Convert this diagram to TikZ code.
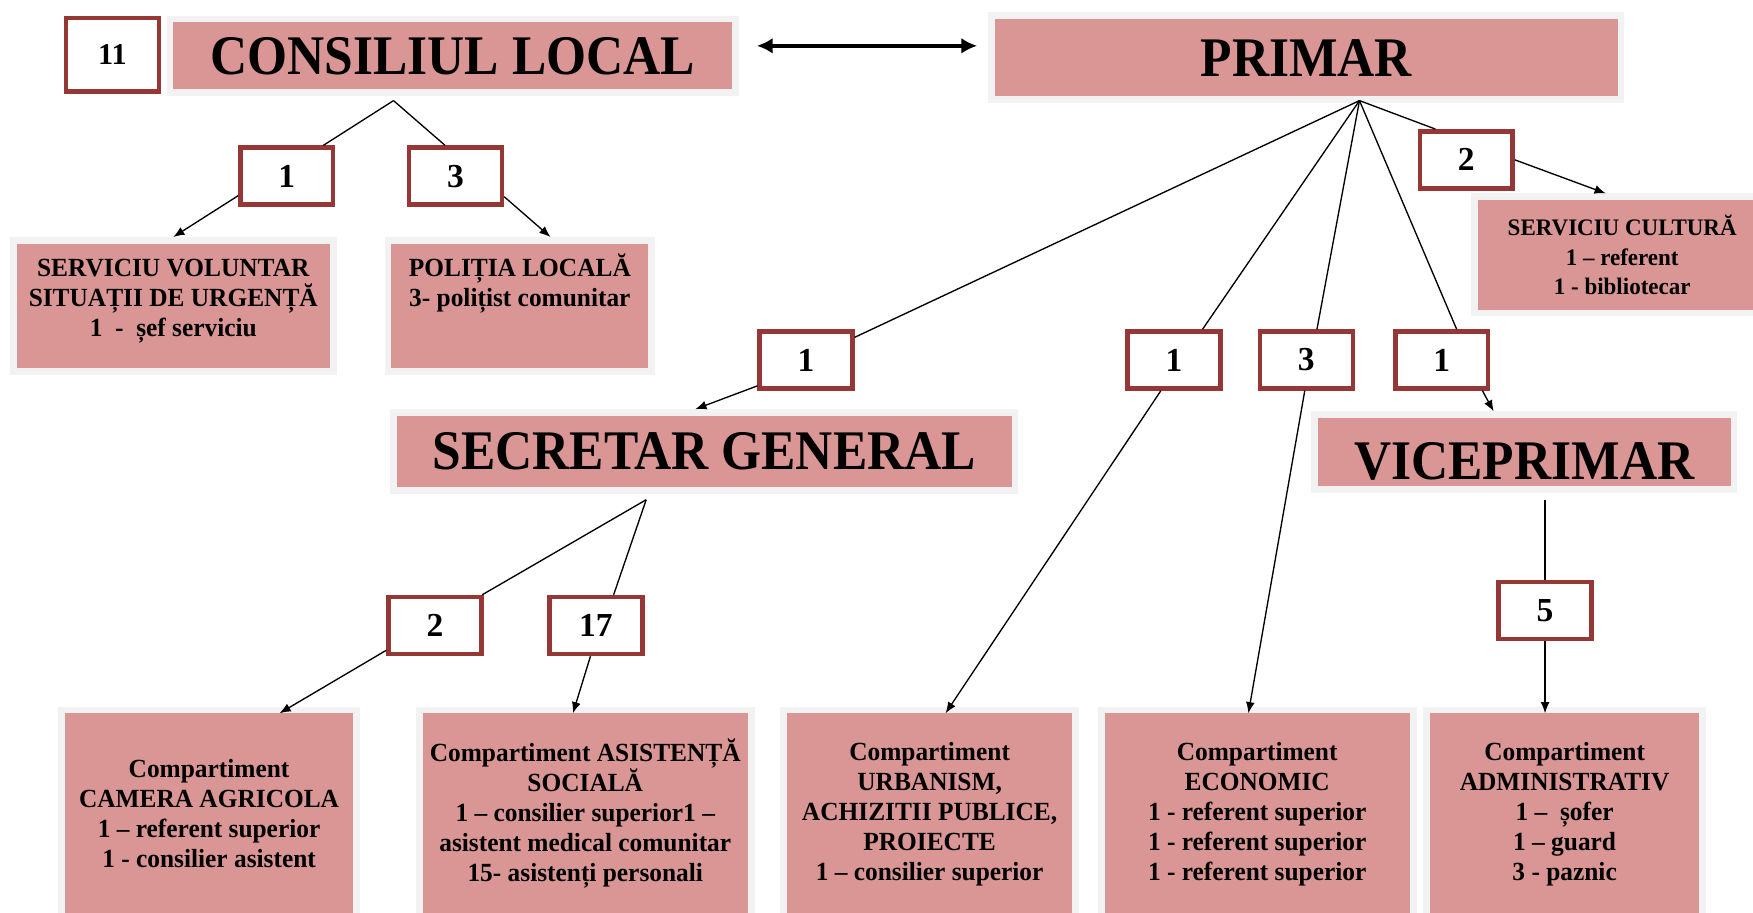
\documentclass[tikz,border=0pt]{standalone}
\usepackage{fontspec}
\setmainfont{Liberation Serif}
\newfontfamily\headfont[FakeStretch=0.92]{Liberation Serif}
\newfontfamily\boxfont[FakeStretch=0.97]{Liberation Serif}
\usetikzlibrary{arrows.meta,calc}
\definecolor{pinkfill}{RGB}{217,150,148}
\definecolor{halo}{RGB}{242,242,242}
\definecolor{numred}{RGB}{149,55,53}
\begin{document}
\begin{tikzpicture}[x=0.5pt,y=-0.5pt,
  pinkbox/.style={fill=pinkfill, preaction={draw=halo, line width=6pt}, outer sep=3pt, inner sep=0pt},
  headbox/.style={pinkbox, font=\headfont\bfseries\fontsize{25}{28}\selectfont},
  smallbox/.style={pinkbox, font=\boxfont\bfseries\fontsize{11.7}{13.4}\selectfont, align=center},
  bottombox/.style={smallbox, outer sep=0pt, minimum height=90pt},
  numbox/.style={draw=numred, line width=2pt, fill=white, minimum width=41.5pt, minimum height=25.5pt, inner sep=0pt, font=\bfseries\fontsize{15}{18}\selectfont},
  conn/.style={line width=0.6pt},
  arr/.style={conn, -{Latex[length=5pt,width=4pt]}},
  biarrow/.style={line width=2pt, {Latex[length=7pt,width=7pt]}-{Latex[length=7pt,width=7pt]}}
]
\useasboundingbox (0,0) rectangle (1568,816.6);
\clip (0,0) rectangle (1568,816.6);

% top row
\node[numbox, minimum height=33pt, font=\bfseries\fontsize{13.5}{16}\selectfont] (n11) at (100.5,49) {11};
\node[headbox, minimum width=250pt, minimum height=30pt] (cl) at (405,50) {CONSILIUL LOCAL};
\node[headbox, minimum width=278.5pt, minimum height=34.5pt] (prim) at (1168.5,51.5) {PRIMAR};

% second level
\node[numbox] (nA1) at (256.5,157.5) {1};
\node[numbox] (nA3) at (407.5,157.5) {3};
\node[numbox] (nC2) at (1311.5,143) {2};

\node[smallbox, minimum width=140pt, minimum height=55.5pt] (svsu) at (155,273.5)
  {\parbox[c][55.5pt][t]{140pt}{\centering\vspace*{4.2pt}\rule{0pt}{10.5pt}SERVICIU VOLUNTAR\\ SITUAȚII DE URGENȚĂ\\ 1~~-~~șef serviciu}};
\node[smallbox, minimum width=115pt, minimum height=55.5pt] (pol) at (465,273.5)
  {\parbox[c][55.5pt][t]{115pt}{\centering\vspace*{4.2pt}\rule{0pt}{10.5pt}POLIȚIA LOCALĂ\\ 3- polițist comunitar}};
\node[smallbox, minimum width=129pt, minimum height=49pt, font=\boxfont\bfseries\fontsize{10.6}{13}\selectfont] (cult) at (1451,228)
  {SERVICIU CULTURĂ\\ 1 – referent\\ 1 - bibliotecar};

% third level
\node[numbox] (nS1) at (721,322) {1};
\node[numbox] (nU1) at (1050,322) {1};
\node[numbox] (nE3) at (1168.5,322) {3};
\node[numbox] (nV1) at (1289.5,322) {1};

\node[headbox, minimum width=275pt, minimum height=32pt] (sg) at (630,404) {SECRETAR GENERAL};
\node[headbox, minimum width=184.5pt, minimum height=30.5pt, text height=24.5pt] (vice) at (1363.5,404.5) {VICEPRIMAR};

\node[numbox] (nSG2) at (389,559.5) {2};
\node[numbox] (nSG17) at (533,559.5) {17};
\node[numbox] (nV5) at (1382,546) {5};

% bottom boxes
\node[bottombox, minimum width=129pt] (cam) at (187,728)
  {Compartiment\\ CAMERA AGRICOLA\\ 1 – referent superior\\ 1 - consilier asistent};
\node[bottombox, minimum width=145.5pt] (asi) at (523.5,728)
  {Compartiment ASISTENȚĂ\\ SOCIALĂ\\ 1 – consilier superior1 –\\ asistent medical comunitar\\ 15- asistenți personali};
\node[bottombox, minimum width=127.5pt] (urb) at (831.5,728)
  {Compartiment\\ URBANISM,\\ ACHIZITII PUBLICE,\\ PROIECTE\\ 1 – consilier superior};
\node[bottombox, minimum width=136.5pt] (eco) at (1124.5,728)
  {Compartiment\\ ECONOMIC\\ 1 - referent superior\\ 1 - referent superior\\ 1 - referent superior};
\node[bottombox, minimum width=120.5pt] (adm) at (1399.5,728)
  {Compartiment\\ ADMINISTRATIV\\ 1 –~ șofer\\ 1 – guard\\ 3 - paznic};

% branching points
\coordinate (clApex) at (352,90);
\coordinate (prApex) at (1216,90);
\coordinate (sgApex) at (578,447);

% connectors
\draw[biarrow] ($(cl.east)+(16,-9)$) -- ($(cl.east -| prim.west)+(-10,-9)$);

\draw[conn] (clApex) -- (nA1.40);
\draw[conn] (clApex) -- (nA3.109);
\draw[arr] (nA1.202) -- (svsu.north);
\draw[arr] (nA3.-23) -- (pol.66);

\draw[conn] (prApex) -- (nS1.25);
\draw[conn] (prApex) -- (nU1.47);
\draw[conn] (prApex) -- (nE3.71);
\draw[conn] (prApex) -- (nV1.64);
\draw[conn] (prApex) -- (nC2.135);
\draw[arr] (nC2.east) -- (cult.105);
\draw[arr] (nS1.208) -- (sg.102);
\draw[arr] (nV1.-37) -- (vice.127);

\draw[conn] (sgApex) -- (nSG2.33);
\draw[conn] (sgApex) -- (nSG17.60);
\draw[arr] (nSG2.207) -- (cam.55);
\draw[arr] (nSG17.260) -- (asi.97);

\draw[arr] (nU1.247) -- (urb.81);
\draw[arr] (nE3.267) -- (eco.95);

\draw[conn, shorten <=3pt] (vice.south -| nV5.north) -- (nV5.north);
\draw[arr] (nV5.south) -- (nV5.south |- adm.north);
\end{tikzpicture}
\end{document}
